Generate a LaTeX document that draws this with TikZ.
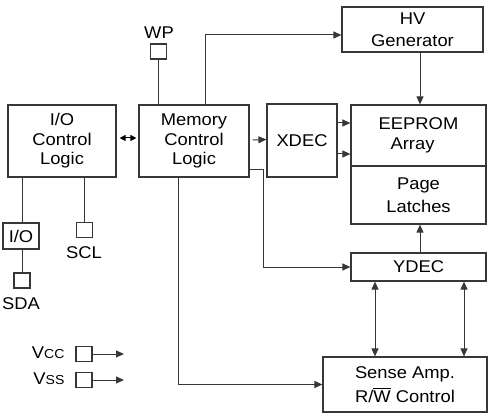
\documentclass[tikz,border=0pt]{standalone}
\usepackage{amsmath}
\usepackage{fontspec}
\setmainfont{Liberation Sans}[FakeStretch=1.08]
\usetikzlibrary{arrows.meta}
\definecolor{wire}{RGB}{55,55,55}

\begin{document}
\begin{tikzpicture}[x=1pt, y=-1pt,
  font=\fontsize{17}{19.5}\selectfont,
  block/.style={draw=wire, line width=1.2pt, align=center, inner sep=0pt},
  pin/.style={draw=wire, line width=1.1pt, inner sep=0pt, minimum width=16pt, minimum height=15pt},
  arr/.style={draw=wire, line width=1pt, -{Triangle[length=8pt,width=7pt]}},
  biarr/.style={draw=wire, line width=1pt, {Triangle[length=8pt,width=7pt]}-{Triangle[length=8pt,width=7pt]}},
  smallbiarr/.style={draw=black, line width=1pt, {Triangle[length=6pt,width=6pt]}-{Triangle[length=6pt,width=6pt]}},
  wire/.style={draw=wire, line width=1pt}]
  \useasboundingbox (0,0) rectangle (494,419);

  % Blocks
  \node[block, minimum width=108pt, minimum height=72pt] (io) at (62, 141) {I/O\\Control\\Logic};
  \node[block, minimum width=110pt, minimum height=72pt] (mcl) at (194, 141) {Memory\\Control\\Logic};
  \node[block, minimum width=141pt, minimum height=45pt] (hv) at (412.5, 29.5) {HV\\[2pt]Generator};
  \node[block, minimum width=70pt, minimum height=73pt] (xdec) at (302, 140.5) {XDEC};
  \node[block, minimum width=135pt, minimum height=61pt] (eeprom) at (418.5, 135.5) {EEPROM\\\hspace*{-12pt}Array};
  \node[block, minimum width=135pt, minimum height=58pt] (latch) at (418.5, 195) {Page\\[3pt]Latches};
  \node[block, minimum width=135pt, minimum height=28pt] (ydec) at (418.5, 267) {YDEC};
  \node[block, minimum width=164pt, minimum height=55pt] (sense) at (405, 384.5) {Sense Amp.\\[4pt]R/$\overline{\text{W}}$ Control};
  \node[block, minimum width=36pt, minimum height=26pt] (iobuf) at (21, 236) {I/O};

  % Pins
  \node[pin] (wp) at (158.5, 51.5) {};
  \node (wplbl) at (159, 33) {WP};
  \node[pin] (sda) at (22, 280.5) {};
  \node (sdalbl) at (21, 304) {SDA};
  \node[pin] (scl) at (84.5, 230) {};
  \node (scllbl) at (84, 253) {SCL};
  \node[pin] (vcc) at (84, 354) {};
  \node[anchor=east] (vcclbl) at (68, 353) {V{\fontsize{13}{14}\selectfont CC}};
  \node[pin] (vss) at (84, 380) {};
  \node[anchor=east] (vsslbl) at (68, 379) {V{\fontsize{13}{14}\selectfont SS}};
  \coordinate (vccend) at (124, 354);
  \coordinate (vssend) at (124, 380);

  % Connectors
  \draw[wire] (wp.south) -- (wp.south |- mcl.north);
  \draw[arr] ([xshift=11pt]mcl.north) |- ([yshift=-5.5pt]hv.west);
  \draw[smallbiarr] ([xshift=3pt,yshift=3pt]io.east) -- ([xshift=-2pt,yshift=3pt]mcl.west);
  \draw[arr] ([xshift=3pt,yshift=1pt]mcl.east) -- ([yshift=1pt]xdec.west);
  \draw[arr] ([yshift=17.5pt]xdec.east) -- ([yshift=17.5pt]xdec.east -| eeprom.west);
  \draw[arr] ([yshift=-13.5pt]xdec.east) -- ([yshift=-13.5pt]xdec.east -| eeprom.west);
  \draw[arr] ([xshift=7.5pt]hv.south) -- ([xshift=7.5pt]hv.south |- eeprom.north);
  \draw[arr] ([yshift=-29pt]mcl.east) -- ++(14,0) |- (ydec.west);
  \draw[arr] ([xshift=1.5pt]ydec.north) -- ([xshift=1.5pt]ydec.north |- latch.south);
  \draw[biarr] ([xshift=-43.5pt]ydec.south) -- ([xshift=-43.5pt]ydec.south |- sense.north);
  \draw[biarr] ([xshift=45.5pt]ydec.south) -- ([xshift=45.5pt]ydec.south |- sense.north);
  \draw[arr] ([xshift=-16pt]mcl.south) |- (sense.west);
  \draw[wire] ([xshift=1pt]iobuf.north) -- ([xshift=1pt]iobuf.north |- io.south);
  \draw[wire] ([xshift=1pt]iobuf.south) -- (sda.north);
  \draw[wire] (scl.north) -- (scl.north |- io.south);
  \draw[arr] (vcc.east) -- (vccend);
  \draw[arr] (vss.east) -- (vssend);
\end{tikzpicture}
\end{document}
